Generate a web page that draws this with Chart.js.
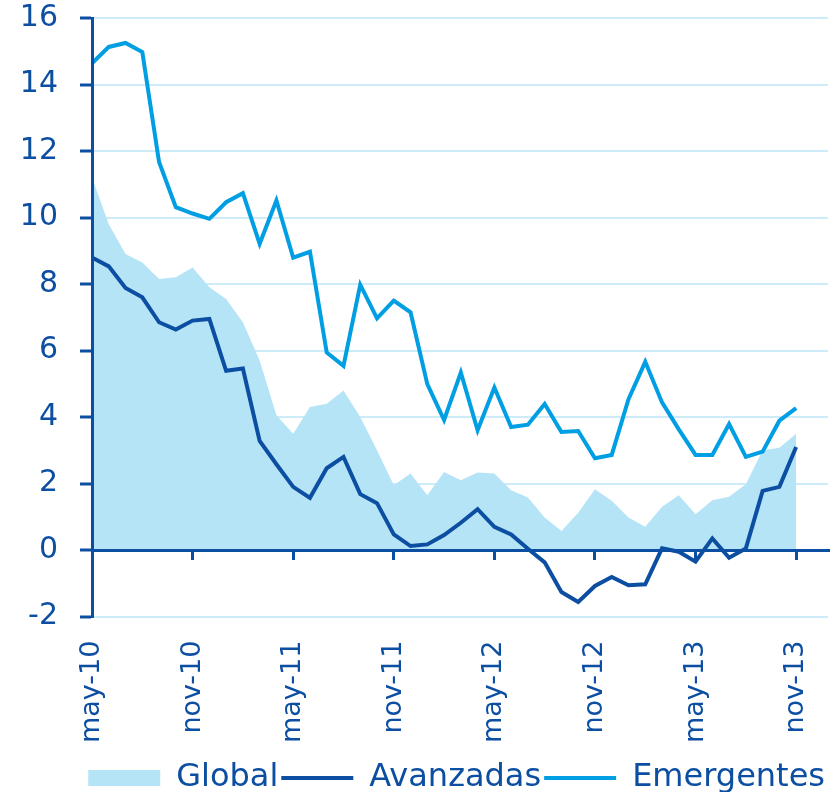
<!DOCTYPE html>
<html>
<head>
<meta charset="utf-8">
<style>
  html, body { margin: 0; padding: 0; background: #fff; }
  #wrap { width: 839px; height: 792px; }
</style>
<script src="https://cdn.jsdelivr.net/npm/chart.js@4.4.1/dist/chart.umd.min.js"></script>
</head>
<body>
<div id="wrap"><canvas id="chart"></canvas></div>
<script>
// monthly, may-10 .. nov-13
const months = [
    'may-10','jun-10','jul-10','ago-10','sep-10','oct-10','nov-10','dic-10',
    'ene-11','feb-11','mar-11','abr-11','may-11','jun-11','jul-11','ago-11','sep-11','oct-11','nov-11','dic-11',
    'ene-12','feb-12','mar-12','abr-12','may-12','jun-12','jul-12','ago-12','sep-12','oct-12','nov-12','dic-12',
    'ene-13','feb-13','mar-13','abr-13','may-13','jun-13','jul-13','ago-13','sep-13','oct-13','nov-13'
];

const globalVals = [
    11.2, 9.8, 8.9, 8.65, 8.15, 8.2, 8.5, 7.9, 7.55, 6.85, 5.7,
    4.05, 3.5, 4.3, 4.4, 4.8, 4.0, 3.0, 1.95, 2.3, 1.65, 2.35,
    2.1, 2.33, 2.3, 1.8, 1.58, 0.98, 0.57, 1.12, 1.83, 1.48,
    0.98, 0.7, 1.3, 1.65, 1.08, 1.5, 1.6, 1.98, 3.0, 3.08, 3.5
];

const avanzadas = [
    8.8, 8.53, 7.88, 7.6, 6.85, 6.63, 6.9, 6.95, 5.39, 5.46, 3.28,
    2.58, 1.9, 1.57, 2.46, 2.8, 1.68, 1.41, 0.47, 0.12, 0.17, 0.45,
    0.82, 1.23, 0.7, 0.47, 0.04, -0.37, -1.26, -1.56, -1.08, -0.81,
    -1.06, -1.03, 0.05, -0.05, -0.35, 0.35, -0.23, 0.05, 1.78, 1.9, 3.1
];

const emergentes = [
    14.64, 15.13, 15.25, 14.98, 11.67, 10.31, 10.12, 9.96, 10.46, 10.73, 9.21,
    10.51, 8.79, 8.97, 5.94, 5.54, 7.98, 6.97, 7.5, 7.15, 4.99, 3.91,
    5.34, 3.6, 4.89, 3.7, 3.77, 4.39, 3.55, 3.58, 2.76, 2.86,
    4.54, 5.66, 4.44, 3.63, 2.86, 2.86, 3.79, 2.8, 2.96, 3.89, 4.27
];

const darkBlue = '#0c4ea2';
const lightBlue = '#009ee2';
const fillBlue = '#b5e4f7';
const gridBlue = '#cdebf9';

const toPoints = (vals) => vals.map((v, i) => ({ x: i, y: v }));
const xMax = 43.9;

// rotated labels / edge labels should not push the plot area around
const noEdgePadding = (scale) => {
    scale.paddingLeft = 0;
    scale.paddingRight = 0;
    scale.paddingTop = 0;
    scale.paddingBottom = 0;
};

const ctx = document.getElementById('chart').getContext('2d');

const data = {
    datasets: [{
        label: 'Global',
        data: toPoints(globalVals),
        backgroundColor: fillBlue,
        borderColor: fillBlue,
        borderWidth: 0,
        fill: 'origin',
        pointRadius: 0,
        tension: 0,
        order: 10
    }, {
        label: 'Avanzadas',
        data: toPoints(avanzadas),
        borderColor: darkBlue,
        backgroundColor: darkBlue,
        borderWidth: 4,
        fill: false,
        pointRadius: 0,
        tension: 0,
        order: 1
    }, {
        label: 'Emergentes',
        data: toPoints(emergentes),
        borderColor: lightBlue,
        backgroundColor: lightBlue,
        borderWidth: 4,
        fill: false,
        pointRadius: 0,
        tension: 0,
        order: 2
    }]
};

const config = {
    type: 'line',
    data: data,
    options: {
        responsive: true,
        maintainAspectRatio: false,
        animation: false,
        layout: {
            padding: { left: 0, right: 11, top: 18, bottom: -12 }
        },
        plugins: {
            tooltip: { enabled: false },
            legend: {
                position: 'bottom',
                align: 'end',
                labels: {
                    usePointStyle: true,
                    pointStyleWidth: 72,
                    boxWidth: 72,
                    boxHeight: 16,
                    padding: 3,
                    color: darkBlue,
                    font: { family: 'DejaVu Sans', size: 32 },
                    generateLabels: (chart) => chart.data.datasets.map((ds, i) => ({
                        text: ds.label,
                        fillStyle: ds.backgroundColor,
                        strokeStyle: ds.borderColor,
                        lineWidth: ds.fill ? 0 : 4,
                        pointStyle: ds.fill ? 'rect' : 'line',
                        fontColor: darkBlue,
                        hidden: false,
                        datasetIndex: i
                    }))
                }
            }
        },
        scales: {
            x: {
                type: 'linear',
                position: 'bottom',
                min: 0,
                max: xMax,
                afterFit: noEdgePadding,
                grid: { display: false },
                border: { display: false },
                ticks: {
                    stepSize: 6,
                    includeBounds: false,
                    autoSkip: false,
                    minRotation: 90,
                    maxRotation: 90,
                    padding: 16,
                    color: darkBlue,
                    font: { family: 'DejaVu Sans', size: 27 },
                    callback: (v) => months[v]
                }
            },
            x0: {
                type: 'linear',
                position: { y: 0 },
                min: 0,
                max: xMax,
                afterFit: noEdgePadding,
                border: { display: true, color: darkBlue, width: 3, z: 1 },
                grid: {
                    drawOnChartArea: false,
                    drawTicks: true,
                    tickLength: 8,
                    color: darkBlue,
                    lineWidth: 3,
                    z: 1
                },
                ticks: { display: false, stepSize: 6, includeBounds: false }
            },
            y: {
                min: -2,
                max: 16,
                afterFit: (scale) => {
                    noEdgePadding(scale);
                    scale.width = 92;
                },
                border: { display: true, color: darkBlue, width: 3, z: 1 },
                grid: {
                    color: gridBlue,
                    lineWidth: 2,
                    tickColor: darkBlue,
                    tickWidth: 3,
                    tickLength: 12
                },
                ticks: {
                    stepSize: 2,
                    padding: 22,
                    color: darkBlue,
                    font: { family: 'DejaVu Sans', size: 30 }
                }
            }
        }
    }
};

const myChart = new Chart(ctx, config);
</script>
</body>
</html>
